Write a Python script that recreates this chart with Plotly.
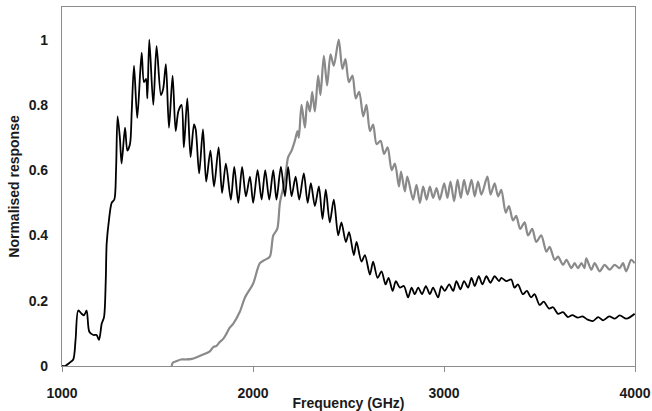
import plotly.graph_objects as go

black_freq = [1000, 1016, 1040, 1059, 1071, 1085, 1103, 1115, 1129, 1143, 1164, 1181, 1194, 1208, 1220, 1229, 1234,
              1246, 1260, 1274, 1283, 1291, 1303, 1312, 1330, 1342, 1356, 1365, 1377, 1394, 1417, 1429, 1440, 1447,
              1457, 1478, 1495, 1518, 1530, 1544, 1560, 1579, 1595, 1609, 1626, 1638, 1656, 1673, 1691, 1700, 1718,
              1738, 1755, 1777, 1796, 1820, 1838, 1858, 1884, 1902, 1923, 1943, 1963, 1984, 2001, 2024, 2045, 2064,
              2085, 2106, 2123, 2146, 2167, 2184, 2202, 2223, 2242, 2266, 2286, 2303, 2324, 2345, 2364, 2381, 2402,
              2423, 2446, 2463, 2486, 2503, 2528, 2542, 2568, 2586, 2612, 2629, 2652, 2673, 2694, 2710, 2731, 2748,
              2769, 2790, 2812, 2830, 2847, 2865, 2885, 2905, 2926, 2943, 2969, 2986, 3004, 3027, 3048, 3065, 3086,
              3105, 3126, 3144, 3161, 3182, 3201, 3222, 3243, 3265, 3288, 3300, 3326, 3352, 3369, 3387, 3413, 3434,
              3456, 3474, 3501, 3522, 3550, 3571, 3597, 3623, 3649, 3672, 3701, 3725, 3752, 3781, 3807, 3833, 3865,
              3894, 3920, 3955, 3998]
black_resp = [0.0, 0.0, 0.01, 0.02, 0.08, 0.17, 0.16, 0.155, 0.17, 0.105, 0.095, 0.095, 0.08, 0.13, 0.15, 0.26, 0.376,
              0.448, 0.50, 0.51, 0.60, 0.765, 0.70, 0.62, 0.73, 0.66, 0.68, 0.78, 0.92, 0.76, 0.96, 0.87, 0.88, 0.82,
              1.0, 0.80, 0.98, 0.83, 0.85, 0.925, 0.73, 0.89, 0.72, 0.78, 0.80, 0.67, 0.82, 0.64, 0.74, 0.725, 0.59,
              0.725, 0.565, 0.66, 0.55, 0.67, 0.53, 0.62, 0.51, 0.61, 0.50, 0.61, 0.52, 0.58, 0.50, 0.60, 0.51, 0.60,
              0.51, 0.60, 0.51, 0.61, 0.52, 0.61, 0.52, 0.58, 0.51, 0.59, 0.50, 0.56, 0.49, 0.55, 0.45, 0.54, 0.44,
              0.51, 0.40, 0.44, 0.38, 0.41, 0.34, 0.38, 0.32, 0.34, 0.28, 0.32, 0.27, 0.29, 0.25, 0.27, 0.23, 0.26,
              0.24, 0.245, 0.21, 0.24, 0.22, 0.24, 0.22, 0.245, 0.22, 0.24, 0.21, 0.245, 0.23, 0.25, 0.23, 0.26, 0.235,
              0.26, 0.24, 0.27, 0.245, 0.275, 0.25, 0.275, 0.255, 0.275, 0.26, 0.27, 0.26, 0.265, 0.24, 0.25, 0.22, 0.23,
              0.21, 0.22, 0.187, 0.197, 0.176, 0.18, 0.16, 0.165, 0.15, 0.156, 0.148, 0.152, 0.142, 0.138, 0.15, 0.14, 0.152,
              0.145, 0.155, 0.145, 0.16]

gray_freq = [1574, 1580, 1600, 1623, 1650, 1680, 1705, 1739, 1774, 1792, 1809, 1827, 1844, 1862, 1879, 1897, 1931,
             1958, 2001, 2036, 2062, 2088, 2106, 2127, 2141, 2167, 2184, 2202, 2219, 2233, 2240, 2254, 2272, 2284,
             2298, 2310, 2324, 2341, 2353, 2371, 2388, 2406, 2423, 2449, 2468, 2484, 2502, 2521, 2538, 2556, 2577,
             2594, 2612, 2629, 2647, 2668, 2686, 2705, 2726, 2743, 2764, 2775, 2795, 2808, 2838, 2856, 2874, 2891,
             2909, 2926, 2943, 2961, 2978, 3001, 3018, 3034, 3053, 3071, 3088, 3105, 3123, 3144, 3161, 3178, 3196,
             3227, 3244, 3265, 3283, 3300, 3323, 3340, 3361, 3378, 3399, 3422, 3440, 3462, 3483, 3509, 3536, 3553,
             3580, 3597, 3623, 3641, 3667, 3684, 3701, 3720, 3735, 3745, 3771, 3789, 3815, 3841, 3867, 3893, 3919,
             3937, 3954, 3980, 3998]
gray_resp = [0.0, 0.01, 0.015, 0.02, 0.02, 0.022, 0.027, 0.035, 0.045, 0.058, 0.062, 0.074, 0.083, 0.10, 0.118, 0.13,
             0.166, 0.21, 0.253, 0.315, 0.325, 0.335, 0.40, 0.42, 0.50, 0.57, 0.64, 0.66, 0.69, 0.72, 0.70, 0.80, 0.73,
             0.81, 0.78, 0.84, 0.78, 0.89, 0.83, 0.95, 0.86, 0.955, 0.92, 1.0, 0.91, 0.94, 0.87, 0.89, 0.82, 0.84, 0.765,
             0.80, 0.72, 0.74, 0.68, 0.69, 0.65, 0.67, 0.60, 0.62, 0.55, 0.596, 0.535, 0.58, 0.51, 0.555, 0.50, 0.55,
             0.51, 0.55, 0.515, 0.545, 0.51, 0.56, 0.515, 0.565, 0.505, 0.57, 0.515, 0.57, 0.525, 0.57, 0.52, 0.565, 0.525,
             0.58, 0.525, 0.56, 0.52, 0.54, 0.47, 0.49, 0.446, 0.46, 0.42, 0.44, 0.40, 0.42, 0.38, 0.40, 0.35, 0.365,
             0.325, 0.335, 0.31, 0.325, 0.30, 0.315, 0.30, 0.315, 0.30, 0.33, 0.295, 0.315, 0.29, 0.31, 0.295, 0.31, 0.30,
             0.315, 0.29, 0.325, 0.315]

x_ticks = [1000, 2000, 3000, 4000]
y_ticks = [0, 0.2, 0.4, 0.6, 0.8, 1]
y_tick_labels = ["0", "0.2", "0.4", "0.6", "0.8", "1"]

fig = go.Figure()
fig.add_trace(go.Scatter(x=gray_freq, y=gray_resp, mode="lines",
                         line=dict(color="#8a8a8a", width=2.2, shape="spline", smoothing=0.8),
                         showlegend=False))
fig.add_trace(go.Scatter(x=black_freq, y=black_resp, mode="lines",
                         line=dict(color="#000000", width=1.8, shape="spline", smoothing=0.8),
                         showlegend=False))

fam = "Liberation Sans, Arial, sans-serif"
tfont = dict(family=fam, size=14, color="#1a1a1a")
fig.update_layout(
    width=652, height=411,
    margin=dict(l=62, r=17, t=7, b=45),
    paper_bgcolor="white", plot_bgcolor="white",
    font=tfont,
    xaxis=dict(range=[1000, 4000], tickvals=x_ticks, ticktext=["<b>%d</b>" % v for v in x_ticks],
               showgrid=False, zeroline=False, showline=True, linecolor="#8c8c8c", linewidth=1.2,
               mirror=True, ticks="outside", ticklen=5, tickcolor="#8c8c8c", ticklabelstandoff=9,
               tickfont=tfont, automargin=False,
               title=dict(text="<b>Frequency (GHz)</b>", standoff=3, font=tfont)),
    yaxis=dict(range=[0, 1.1], tickvals=y_ticks, ticktext=["<b>%s</b>" % t for t in y_tick_labels],
               showgrid=False, zeroline=False, showline=True, linecolor="#8c8c8c", linewidth=1.2,
               mirror=True, ticks="", ticklabelstandoff=10,
               tickfont=tfont, automargin=False,
               title=dict(text="<b>Normalised response</b>", standoff=5, font=tfont)),
)

fig.write_html("out.html")
